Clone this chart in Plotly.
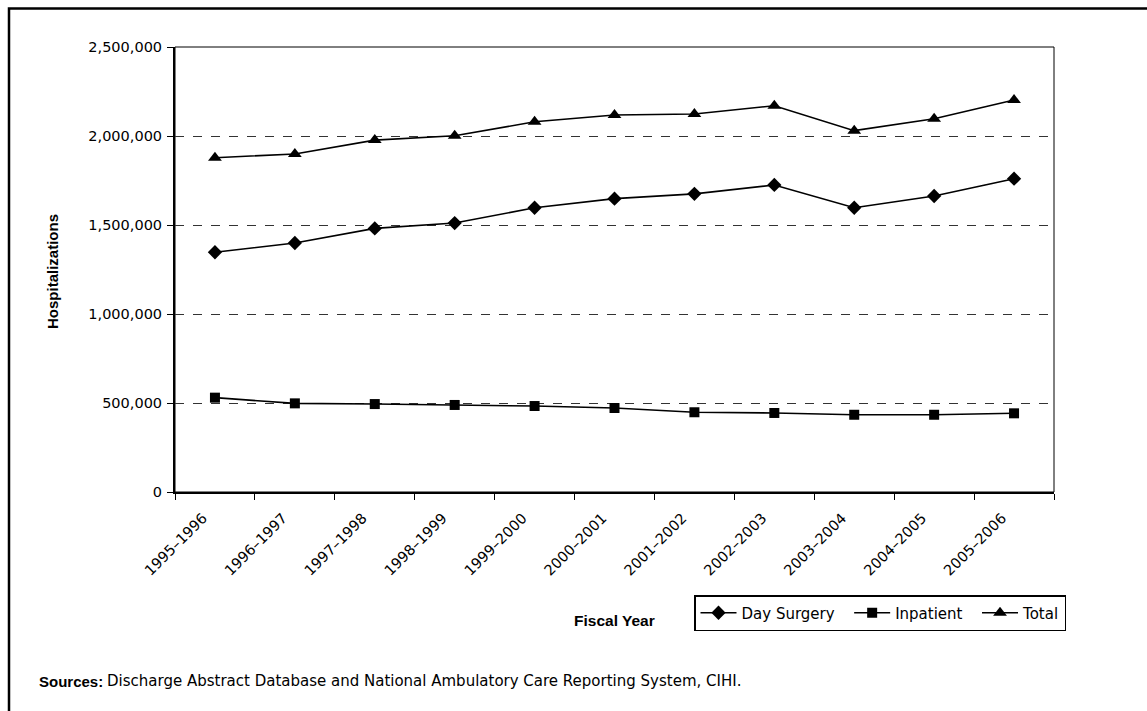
import plotly.graph_objects as go

# Fiscal years on the category axis
fiscal_years = [
    "1995–1996", "1996–1997", "1997–1998", "1998–1999", "1999–2000",
    "2000–2001", "2001–2002", "2002–2003", "2003–2004", "2004–2005",
    "2005–2006",
]

# Hospitalizations per fiscal year
day_surgery = [1347000, 1399000, 1481000, 1511000, 1597000, 1648000,
               1675000, 1725000, 1597000, 1663000, 1760000]
inpatient = [530000, 498000, 494000, 489000, 483000, 472000,
             448000, 444000, 434000, 434000, 442000]
total = [1878000, 1899000, 1977000, 2001000, 2080000, 2118000,
         2124000, 2170000, 2030000, 2097000, 2202000]

y_ticks = [0, 500000, 1000000, 1500000, 2000000, 2500000]

W, H = 1147, 711
L, R, T, B = 175, 1054, 47, 492   # plot area edges in pixels
pw, ph = R - L, B - T


def px_x(x):
    return (x - L) / pw


def px_y(y):
    return (B - y) / ph


wide_font = "DejaVu Sans, Verdana, sans-serif"
bold_font = "Liberation Sans, Arial, sans-serif"
tick_font = dict(family=wide_font, size=14.5, color="black")

fig = go.Figure()

# legend labels carry a little trailing padding to space the entries out
pad = "\u00a0" * 2
series = [
    ("Day Surgery" + pad, day_surgery, "diamond", 11),
    ("Inpatient" + pad, inpatient, "square", 10),
    ("Total", total, "triangle-up", 12),
]
for name, vals, sym, sz in series:
    fig.add_trace(go.Scatter(
        x=fiscal_years, y=vals, name=name, mode="lines+markers",
        line=dict(color="black", width=1.6),
        marker=dict(symbol=sym, size=sz, color="black"),
    ))

fig.update_layout(
    width=W, height=H,
    margin=dict(l=L, r=W - R, t=T, b=H - B),
    paper_bgcolor="white", plot_bgcolor="white",
    showlegend=True,
    legend=dict(
        orientation="h", x=px_x(694), y=px_y(595),
        xanchor="left", yanchor="top",
        bordercolor="black", borderwidth=1.5,
        font=dict(family=wide_font, size=15, color="black"),
        itemwidth=36,
    ),
    xaxis=dict(
        type="category", range=[-0.5, len(fiscal_years) - 0.5],
        tickson="boundaries", ticks="outside", ticklen=6, tickwidth=1,
        tickcolor="black", tickangle=-45, tickfont=tick_font,
        ticklabelshift=-12, ticklabelstandoff=10,
        showline=True, linecolor="black", linewidth=2,
        showgrid=False, zeroline=False,
    ),
    yaxis=dict(
        range=[0, 2500000], tickvals=y_ticks, tickformat=",d",
        ticks="outside", ticklen=6, tickwidth=1, tickcolor="black",
        tickfont=tick_font, ticklabelstandoff=2,
        showline=True, linecolor="black", linewidth=2,
        showgrid=True, gridcolor="#333333", gridwidth=1, griddash="dash",
        zeroline=False,
    ),
)

# thin frame around the plot area (top and right sides)
fig.add_shape(type="rect", xref="paper", yref="paper",
              x0=0, x1=1, y0=0, y1=1,
              line=dict(color="black", width=1), layer="below")

# outer frame of the figure
fig.add_shape(type="rect", xref="paper", yref="paper",
              x0=px_x(9), x1=px_x(1170), y0=px_y(730), y1=px_y(8.5),
              line=dict(color="black", width=2.5), layer="below")

fig.add_annotation(
    text="<b>Hospitalizations</b>", xref="paper", yref="paper",
    x=px_x(52), y=px_y(272), textangle=-90, showarrow=False,
    xanchor="center", yanchor="middle",
    font=dict(family=bold_font, size=15, color="black"),
)
fig.add_annotation(
    text="<b>Fiscal Year</b>", xref="paper", yref="paper",
    x=px_x(614), y=px_y(620), showarrow=False,
    xanchor="center", yanchor="middle",
    font=dict(family=bold_font, size=15.5, color="black"),
)
fig.add_annotation(
    text="<b>Sources:</b>", xref="paper", yref="paper",
    x=px_x(37), y=px_y(681), showarrow=False,
    xanchor="left", yanchor="middle",
    font=dict(family=bold_font, size=15, color="black"),
)
fig.add_annotation(
    text="Discharge Abstract Database and National "
         "Ambulatory Care Reporting System, CIHI.",
    xref="paper", yref="paper",
    x=px_x(105), y=px_y(681), showarrow=False,
    xanchor="left", yanchor="middle",
    font=dict(family=wide_font, size=15, color="black"),
)

fig.write_html("out.html")
